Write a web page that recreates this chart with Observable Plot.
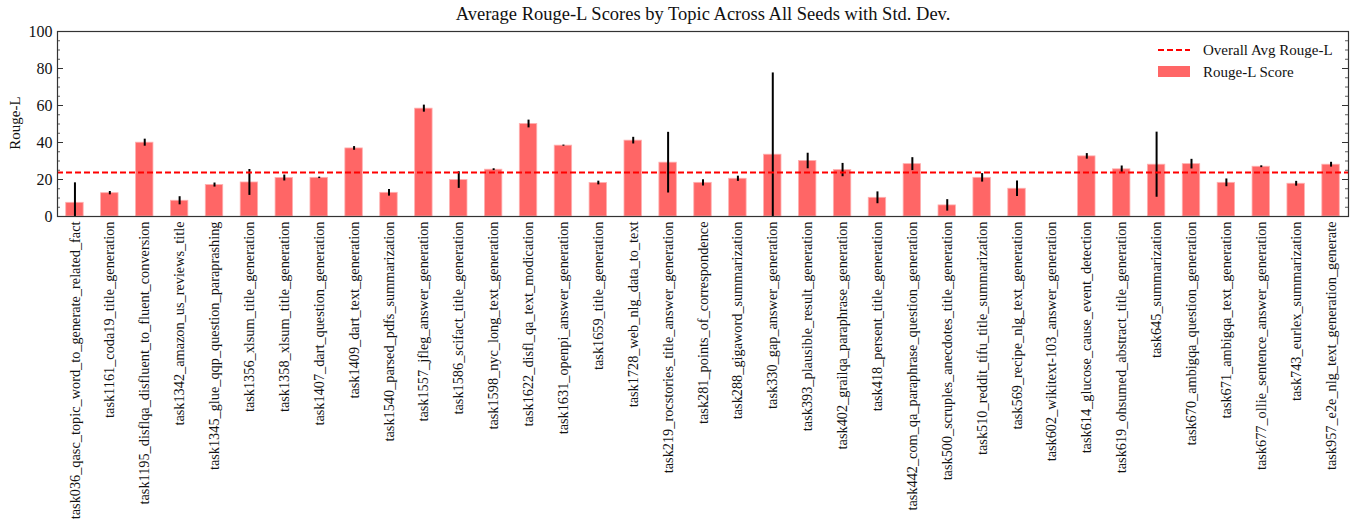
<!DOCTYPE html>
<html>
<head>
<meta charset="utf-8">
<script src="https://cdn.jsdelivr.net/npm/d3@7"></script>
<script src="https://cdn.jsdelivr.net/npm/@observablehq/plot@0.6"></script>
<style>
  html, body { margin: 0; padding: 0; background: #fff; }
  svg { display: block; }
  svg, svg text, svg g { font-family: "Liberation Serif", "DejaVu Serif", serif !important; }
</style>
</head>
<body>
<div id="chart"></div>
<script>
const tasks = [
  "task036_qasc_topic_word_to_generate_related_fact",
  "task1161_coda19_title_generation",
  "task1195_disflqa_disfluent_to_fluent_conversion",
  "task1342_amazon_us_reviews_title",
  "task1345_glue_qqp_question_paraprashing",
  "task1356_xlsum_title_generation",
  "task1358_xlsum_title_generation",
  "task1407_dart_question_generation",
  "task1409_dart_text_generation",
  "task1540_parsed_pdfs_summarization",
  "task1557_jfleg_answer_generation",
  "task1586_scifact_title_generation",
  "task1598_nyc_long_text_generation",
  "task1622_disfl_qa_text_modication",
  "task1631_openpi_answer_generation",
  "task1659_title_generation",
  "task1728_web_nlg_data_to_text",
  "task219_rocstories_title_answer_generation",
  "task281_points_of_correspondence",
  "task288_gigaword_summarization",
  "task330_gap_answer_generation",
  "task393_plausible_result_generation",
  "task402_grailqa_paraphrase_generation",
  "task418_persent_title_generation",
  "task442_com_qa_paraphrase_question_generation",
  "task500_scruples_anecdotes_title_generation",
  "task510_reddit_tifu_title_summarization",
  "task569_recipe_nlg_text_generation",
  "task602_wikitext-103_answer_generation",
  "task614_glucose_cause_event_detection",
  "task619_ohsumed_abstract_title_generation",
  "task645_summarization",
  "task670_ambigqa_question_generation",
  "task671_ambigqa_text_generation",
  "task677_ollie_sentence_answer_generation",
  "task743_eurlex_summarization",
  "task957_e2e_nlg_text_generation_generate"
];
const rougeL = [7.4, 12.6, 39.9, 8.5, 17.0, 18.4, 20.8, 20.9, 36.8, 12.8, 58.3, 19.7, 25.3, 50.0, 38.3, 18.1, 41.0, 29.1, 18.2, 20.4, 33.4, 30.0, 25.1, 10.1, 28.3, 6.0, 20.9, 15.0, 0, 32.5, 25.5, 28.0, 28.3, 18.2, 26.9, 17.7, 28.0];
const rougeStd = [10.8, 0.9, 1.9, 2.2, 1.1, 7.0, 1.6, 0.4, 1.0, 1.8, 1.9, 4.5, 0.5, 2.1, 0.3, 1.0, 1.8, 16.4, 1.7, 1.4, 44.2, 4.2, 3.6, 3.2, 3.5, 3.1, 2.3, 4.2, 0, 1.5, 1.8, 17.6, 2.6, 2.1, 0.5, 1.3, 1.3];
const overallAvg = 23.8;
const yTicks = [0, 20, 40, 60, 80, 100];
const yMinorTicks = d3.range(0, 101, 5).filter(v => v % 20 !== 0);
const titleText = "Average Rouge-L Scores by Topic Across All Seeds with Std. Dev.";
const yLabel = "Rouge-L";
const legendLine = "Overall Avg Rouge-L";
const legendBar = "Rouge-L Score";

const data = tasks.map((t, i) => ({task: t, mean: rougeL[i], std: rougeStd[i]}));

const W = 1356, H = 531;
const mL = 57, mR = 8, mT = 31, mB = 315;
const frameW = W - mL - mR;
const font = "Liberation Serif, DejaVu Serif, serif";
const barColor = "#ff6666";

const chart = Plot.plot({
  width: W,
  height: H,
  marginLeft: mL,
  marginRight: mR,
  marginTop: mT,
  marginBottom: mB,
  style: {fontFamily: font, fontSize: "15px", color: "#111", background: "#fff"},
  x: {domain: tasks, paddingInner: 0.5, paddingOuter: 0.25, label: null},
  y: {domain: [0, 100], label: null},
  marks: [
    Plot.barY(data, {x: "task", y: "mean", fill: barColor, stroke: "#ffb0b0", strokeWidth: 0.8}),
    Plot.ruleX(data, {x: "task", y1: d => Math.max(0, d.mean - d.std), y2: d => d.mean + d.std, stroke: "#000", strokeWidth: 2, clip: true}),
    Plot.ruleY([overallAvg], {stroke: "#ff0000", strokeWidth: 2, strokeDasharray: "6,3"}),
    // inward ticks, left & right
    Plot.ruleY(yTicks, {stroke: "#333", strokeWidth: 1, insetRight: frameW - 6}),
    Plot.ruleY(yMinorTicks, {stroke: "#333", strokeWidth: 0.8, insetRight: frameW - 3}),
    Plot.ruleY(yTicks, {stroke: "#333", strokeWidth: 1, insetLeft: frameW - 6}),
    Plot.ruleY(yMinorTicks, {stroke: "#333", strokeWidth: 0.8, insetLeft: frameW - 3}),
    Plot.axisY({ticks: yTicks, tickSize: 0, tickPadding: 5, fontSize: 16, label: null}),
    Plot.axisX({tickSize: 0, tickPadding: 5, tickRotate: -90, fontSize: 14.3, label: null}),
    Plot.frame({stroke: "#333", strokeWidth: 1.2}),
    Plot.text([titleText], {frameAnchor: "top", lineAnchor: "middle", dy: -17, fontSize: 18.5, fill: "#111"})
  ]
});

const svg = d3.select(chart);
// y label
svg.append("text").attr("transform", "translate(15,123) rotate(-90)")
  .attr("text-anchor", "middle").attr("dy", "0.35em")
  .attr("font-size", 15).attr("fill", "#111").text(yLabel);
// legend (inside upper right)
const lg = svg.append("g").attr("font-size", 15).attr("fill", "#111").attr("text-anchor", "start");
lg.append("line").attr("x1", 1158).attr("x2", 1190).attr("y1", 50).attr("y2", 50)
  .attr("stroke", "#ff0000").attr("stroke-width", 2).attr("stroke-dasharray", "6,3");
lg.append("text").attr("x", 1203).attr("y", 50).attr("dy", "0.35em").text(legendLine);
lg.append("rect").attr("x", 1158).attr("y", 66).attr("width", 32).attr("height", 11)
  .attr("fill", barColor);
lg.append("text").attr("x", 1203).attr("y", 72).attr("dy", "0.35em").text(legendBar);

document.getElementById("chart").appendChild(chart);
</script>
</body>
</html>
